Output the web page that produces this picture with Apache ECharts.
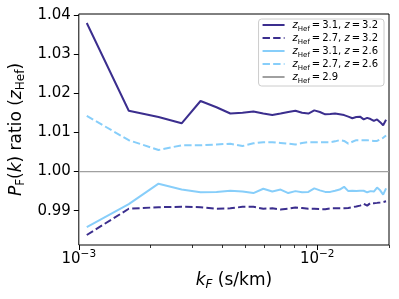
<!DOCTYPE html>
<html>
<head>
<meta charset="utf-8">
<script src="https://cdn.jsdelivr.net/npm/echarts@6/dist/echarts.min.js"></script>
<style>html,body{margin:0;padding:0;background:#fff}#c{width:399px;height:299px}</style>
</head>
<body>
<div id="c"></div>
<script>
const kValues = [0.00108, 0.00162, 0.00216, 0.0027, 0.00324, 0.00378, 0.00432, 0.00486, 0.0054, 0.00594,
  0.00648, 0.00702, 0.00756, 0.0081, 0.00864, 0.00918, 0.00972, 0.01026, 0.0108, 0.01134,
  0.01188, 0.01242, 0.01296, 0.0135, 0.01404, 0.01458, 0.01512, 0.01566, 0.0162, 0.01674,
  0.01728, 0.01782, 0.01836, 0.0189, 0.01944];
const seriesNames = ['z31_32', 'z27_32', 'z31_26', 'z27_26', 'z29'];
const hef31z32 = [1.0379, 1.0155, 1.0139, 1.0123, 1.0180, 1.0164, 1.0148, 1.0150, 1.0153, 1.0148,
  1.0144, 1.0148, 1.0152, 1.0155, 1.0150, 1.0148, 1.0156, 1.0152, 1.0146, 1.0147,
  1.0148, 1.0146, 1.0144, 1.0140, 1.0136, 1.0139, 1.0140, 1.0133, 1.0137, 1.0134,
  1.0129, 1.0133, 1.0126, 1.0118, 1.0132];
const hef27z32 = [0.9838, 0.9905, 0.9909, 0.9910, 0.9909, 0.9905, 0.9906, 0.9910, 0.9910, 0.9905,
  0.9906, 0.9903, 0.9905, 0.9908, 0.9907, 0.9905, 0.9905, 0.9904, 0.9904, 0.9906,
  0.9906, 0.9906, 0.9906, 0.9907, 0.9909, 0.9911, 0.9913, 0.9918, 0.9913, 0.9920,
  0.9919, 0.9920, 0.9921, 0.9922, 0.9924];
const hef31z26 = [0.9858, 0.9917, 0.9969, 0.9954, 0.9947, 0.9948, 0.9951, 0.9949, 0.9945, 0.9956,
  0.9949, 0.9954, 0.9945, 0.9950, 0.9947, 0.9948, 0.9957, 0.9952, 0.9948, 0.9948,
  0.9951, 0.9954, 0.9961, 0.9950, 0.9951, 0.9950, 0.9951, 0.9951, 0.9947, 0.9950,
  0.9949, 0.9959, 0.9952, 0.9941, 0.9957];
const hef27z26 = [1.0142, 1.0080, 1.0055, 1.0067, 1.0067, 1.0069, 1.0071, 1.0065, 1.0072, 1.0075,
  1.0075, 1.0073, 1.0071, 1.0069, 1.0073, 1.0075, 1.0075, 1.0075, 1.0075, 1.0075,
  1.0077, 1.0080, 1.0078, 1.0071, 1.0076, 1.0080, 1.0080, 1.0080, 1.0080, 1.0079,
  1.0078, 1.0078, 1.0082, 1.0086, 1.0092];
const refLineK = [0.001, 0.02];
const refLineVal = [1.0, 1.0];
const yTicks = [0.99, 1.00, 1.01, 1.02, 1.03, 1.04];
const xMajorTicks = [0.001, 0.01];
const xMinorTicks = [0.002, 0.003, 0.004, 0.005, 0.006, 0.007, 0.008, 0.009, 0.02];
const xTickLabels = {'0.001': '{b|10}{e|\u22123}', '0.01': '{b|10}{e|\u22122}'};
const TS = '\u2009';
const legendLabels = {
  z31_32: '{i|z}{s|Hef}{t|' + TS + '=' + TS + '3.1, }{j|z}{t|' + TS + '=' + TS + '3.2}',
  z27_32: '{i|z}{s|Hef}{t|' + TS + '=' + TS + '2.7, }{j|z}{t|' + TS + '=' + TS + '3.2}',
  z31_26: '{i|z}{s|Hef}{t|' + TS + '=' + TS + '3.1, }{j|z}{t|' + TS + '=' + TS + '2.6}',
  z27_26: '{i|z}{s|Hef}{t|' + TS + '=' + TS + '2.7, }{j|z}{t|' + TS + '=' + TS + '2.6}',
  z29: '{i|z}{s|Hef}{t|' + TS + '=' + TS + '2.9}'
};

const DARK = '#3b2e8e';
const LIGHT = '#87cefa';
const FONT = 'DejaVu Sans';
const zip = (xs, ys) => xs.map((x, i) => [x, ys[i]]);

const chart = echarts.init(document.getElementById('c'), null, {renderer: 'canvas'});
const lw = 2;
const dash = [7.4, 3.2];
const mk = (name, vals, color, dashed) => ({
  name: name, type: 'line', data: zip(kValues, vals), showSymbol: false, symbol: 'none',
  lineStyle: {color: color, width: lw, type: dashed ? dash : 'solid'}, itemStyle: {color: color},
  animation: false, z: 3
});
const LFS = 10;

const option = {
  animation: false,
  backgroundColor: '#fff',
  grid: {left: 74, right: 10, top: 14, bottom: 54, show: true, borderColor: '#000', borderWidth: 1, backgroundColor: 'transparent'},
  legend: {
    orient: 'vertical', right: 15, top: 19, itemWidth: 22, itemHeight: 10, itemGap: 0,
    padding: [1, 6, 1, 3], borderColor: '#cccccc', borderWidth: 1, borderRadius: 3,
    backgroundColor: 'rgba(255,255,255,0.8)',
    itemStyle: {opacity: 0, color: 'transparent', borderWidth: 0},
    data: seriesNames,
    formatter: n => legendLabels[n],
    textStyle: {
      fontFamily: FONT, color: '#000', fontSize: LFS,
      rich: {
        i: {fontFamily: FONT, fontStyle: 'italic', fontSize: LFS, lineHeight: 16, verticalAlign: 'middle', padding: [0, 0, 0, 3]},
        j: {fontFamily: FONT, fontStyle: 'italic', fontSize: LFS, lineHeight: 16, verticalAlign: 'middle'},
        s: {fontFamily: FONT, fontSize: 7, lineHeight: 11, verticalAlign: 'bottom'},
        t: {fontFamily: FONT, fontSize: LFS, lineHeight: 16, verticalAlign: 'middle'}
      }
    }
  },
  xAxis: [{
    type: 'log', logBase: 10, min: 0.001, max: 0.02,
    name: '{i|k}{s|F}{t| (s/km)}', nameLocation: 'middle', nameGap: 22,
    nameTextStyle: {
      fontFamily: FONT, color: '#000', fontSize: 17,
      rich: {
        i: {fontFamily: FONT, fontStyle: 'italic', fontSize: 17, lineHeight: 20, verticalAlign: 'middle'},
        s: {fontFamily: FONT, fontStyle: 'italic', fontSize: 12, lineHeight: 12, verticalAlign: 'bottom'},
        t: {fontFamily: FONT, fontSize: 17, lineHeight: 20, verticalAlign: 'middle'}
      }
    },
    axisLine: {show: false},
    splitLine: {show: false},
    axisTick: {show: true, length: 5, customValues: xMajorTicks, lineStyle: {color: '#000', width: 1}},
    axisLabel: {
      show: true, customValues: xMajorTicks, margin: 4, fontFamily: FONT, fontSize: 15, color: '#000',
      formatter: v => xTickLabels[String(+v.toPrecision(3))] || '',
      rich: {
        b: {fontFamily: FONT, fontSize: 15, lineHeight: 18, verticalAlign: 'bottom'},
        e: {fontFamily: FONT, fontSize: 10.5, lineHeight: 12, verticalAlign: 'top'}
      }
    },
    minorTick: {show: false}
  }, {
    type: 'log', logBase: 10, min: 0.001, max: 0.02, position: 'bottom',
    axisLine: {show: false}, splitLine: {show: false},
    axisTick: {show: true, length: 3, customValues: xMinorTicks, lineStyle: {color: '#000', width: 0.8}},
    axisLabel: {show: false}
  }],
  yAxis: {
    type: 'value', min: 0.98125, max: 1.0402,
    name: '{i|P}{s|F}{t|(}{i|k}{t|) ratio (}{i|z}{s|Hef}{t|)}', nameLocation: 'middle', nameGap: 42, nameRotate: 90,
    nameTextStyle: {
      fontFamily: FONT, color: '#000', fontSize: 17,
      rich: {
        i: {fontFamily: FONT, fontStyle: 'italic', fontSize: 17, lineHeight: 20, verticalAlign: 'middle'},
        s: {fontFamily: FONT, fontSize: 12, lineHeight: 12, verticalAlign: 'bottom'},
        t: {fontFamily: FONT, fontSize: 17, lineHeight: 20, verticalAlign: 'middle'}
      }
    },
    axisLine: {show: false},
    splitLine: {show: false},
    axisTick: {show: true, length: 5, customValues: yTicks, lineStyle: {color: '#000', width: 1}},
    axisLabel: {show: true, customValues: yTicks, margin: 8, fontFamily: FONT, fontSize: 15, color: '#000',
      formatter: v => (+v).toFixed(2)}
  },
  series: [
    mk('z31_32', hef31z32, DARK, false),
    mk('z27_32', hef27z32, DARK, true),
    mk('z31_26', hef31z26, LIGHT, false),
    mk('z27_26', hef27z26, LIGHT, true),
    {name: 'z29', type: 'line', data: zip(refLineK, refLineVal), showSymbol: false, symbol: 'none',
     lineStyle: {color: '#a0a0a0', width: 1.3}, itemStyle: {color: '#a0a0a0'}, z: 2}
  ]
};
chart.setOption(option);
</script>
</body>
</html>
